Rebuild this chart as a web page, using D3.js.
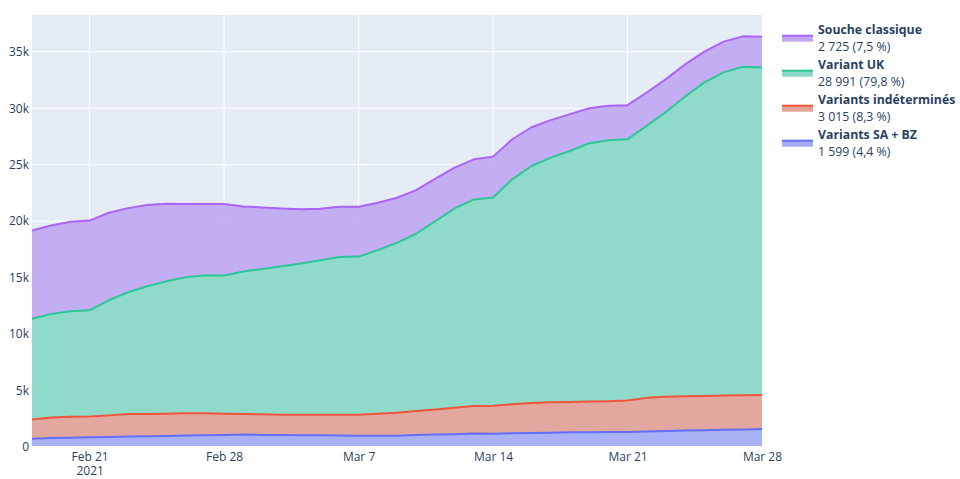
<!DOCTYPE html>
<html>
<head>
<meta charset="utf-8">
<script src="https://cdn.jsdelivr.net/npm/d3@7"></script>
<style>
  html, body { margin: 0; padding: 0; background: #fff; }
  svg { display: block; font-family: "Open Sans", "Noto Sans", sans-serif; }
</style>
</head>
<body>
<svg id="chart" width="960" height="479"></svg>
<script>
// ---- Data (daily, Feb 18 – Mar 28, 2021) ----
const startDate = "2021-02-18";
const endDate = "2021-03-28";
const seriesNames = ["Variants SA + BZ", "Variants indéterminés", "Variant UK", "Souche classique"];
const seriesColors = ["#636efa", "#EF553B", "#2cc796", "#ab63fa"];
const fillColors = ["#a4acf4", "#e2a399", "#8ad8c5", "#c1a9f2"];
const legendSubtitles = ["1 599 (4,4 %)", "3 015 (8,3 %)", "28 991 (79,8 %)", "2 725 (7,5 %)"];

const variantsSABZ = [740,800,830,860,890,920,950,980,1010,1040,1070,1100,1070,1070,1040,1040,1010,1000,990,1000,1060,1100,1130,1190,1180,1220,1250,1270,1300,1310,1320,1330,1380,1420,1450,1490,1520,1560,1599];
const variantsIndetermines = [1700,1820,1850,1850,1910,2000,1970,1970,1970,1940,1880,1820,1820,1790,1820,1820,1850,1860,1960,2040,2120,2230,2350,2440,2480,2560,2650,2690,2690,2710,2730,2780,2970,3040,3040,3030,3030,3020,3015];
const variantUK = [8920,9155,9330,9390,10190,10780,11310,11725,12050,12230,12230,12610,12880,13140,13380,13680,13970,14000,14480,15040,15700,16670,17640,18290,18440,19920,20980,21660,22220,22870,23110,23140,24080,25210,26550,27760,28620,29090,28991];
const soucheClassique = [7810,7840,7930,7950,7750,7450,7190,6865,6480,6300,6330,5770,5440,5120,4800,4550,4440,4410,4200,3990,3870,3760,3610,3550,3610,3550,3430,3320,3260,3110,3050,3020,2960,2900,2840,2720,2720,2690,2725];

const yTickValues = [0, 5000, 10000, 15000, 20000, 25000, 30000, 35000];
const xTickDates = ["2021-02-21", "2021-02-28", "2021-03-07", "2021-03-14", "2021-03-21", "2021-03-28"];
const yMax = 38250;

// ---- Build table ----
const parse = d3.timeParse("%Y-%m-%d");
const d0 = parse(startDate);
const dates = variantsSABZ.map((_, i) => d3.timeDay.offset(d0, i));
const table = dates.map((d, i) => ({
  date: d,
  s0: variantsSABZ[i],
  s1: variantsIndetermines[i],
  s2: variantUK[i],
  s3: soucheClassique[i]
}));
const stack = d3.stack().keys(["s0", "s1", "s2", "s3"]);
const layers = stack(table);

// ---- Layout ----
const svg = d3.select("#chart");
const m = { left: 32, right: 762, top: 15, bottom: 447 };
const x = d3.scaleTime().domain([d0, parse(endDate)]).range([m.left, m.right]);
const y = d3.scaleLinear().domain([0, yMax]).range([m.bottom, m.top]);
const textColor = "#2a3f5f";

// background
svg.append("rect").attr("x", m.left).attr("y", m.top)
  .attr("width", m.right - m.left).attr("height", m.bottom - m.top)
  .attr("fill", "#E5ECF6");

// grid
const grid = svg.append("g");
grid.selectAll("line.h").data(yTickValues.filter(v => v > 0)).join("line")
  .attr("x1", m.left).attr("x2", m.right)
  .attr("y1", d => y(d)).attr("y2", d => y(d))
  .attr("stroke", "#fff").attr("stroke-width", 1);
grid.selectAll("line.v").data(xTickDates.map(parse).filter(d => x(d) < m.right - 1)).join("line")
  .attr("x1", d => x(d)).attr("x2", d => x(d))
  .attr("y1", m.top).attr("y2", m.bottom)
  .attr("stroke", "#fff").attr("stroke-width", 1);

// areas (semi-transparent so the grid shows faintly through)
const area = d3.area().x(d => x(d.data.date)).y0(d => y(d[0])).y1(d => y(d[1]));
const line = d3.line().x(d => x(d.data.date)).y(d => y(d[1]));
svg.append("g").selectAll("path").data(layers).join("path")
  .attr("d", area)
  .attr("fill", (d, i) => fillColors[i])
  .attr("fill-opacity", 0.93);

// zero line
svg.append("line").attr("x1", m.left).attr("x2", m.right)
  .attr("y1", y(0)).attr("y2", y(0)).attr("stroke", "#fff").attr("stroke-width", 2);

svg.append("g").selectAll("path").data(layers).join("path")
  .attr("d", line)
  .attr("fill", "none")
  .attr("stroke", (d, i) => seriesColors[i])
  .attr("stroke-width", 2)
  .attr("stroke-linejoin", "round");

// y axis
const yAxis = d3.axisLeft(y).tickValues(yTickValues)
  .tickFormat(d => d === 0 ? "0" : d3.format("~s")(d)).tickSize(0).tickPadding(2);
const gy = svg.append("g").attr("transform", `translate(${m.left - 1},0)`).call(yAxis);
gy.select(".domain").remove();
gy.selectAll("text").attr("fill", textColor).style("font-size", "12px")
  .style("font-family", '"Open Sans", sans-serif');

// x axis
const fmt = d3.timeFormat("%b %-d");
const xAxis = d3.axisBottom(x).tickValues(xTickDates.map(parse))
  .tickFormat(fmt).tickSize(0).tickPadding(5);
const gx = svg.append("g").attr("transform", `translate(0,${m.bottom})`).call(xAxis);
gx.select(".domain").remove();
gx.selectAll("text").attr("fill", textColor).style("font-size", "12px")
  .style("font-family", '"Open Sans", sans-serif');
// year label as its own text under the first tick
gx.selectAll(".tick").filter((d, i) => i === 0)
  .append("text")
  .attr("y", 27.5)
  .attr("fill", textColor)
  .style("font-size", "12px")
  .style("font-family", '"Open Sans", sans-serif')
  .attr("text-anchor", "middle")
  .text(d => d3.timeFormat("%Y")(d));

// legend
const legend = svg.append("g");
const order = [3, 2, 1, 0];
order.forEach((si, k) => {
  const yb = 34.3 + k * 35;
  const g = legend.append("g");
  g.append("rect").attr("x", 782).attr("y", yb + 1.4).attr("width", 31).attr("height", 6)
    .attr("fill", fillColors[si]);
  g.append("line").attr("x1", 782).attr("x2", 813).attr("y1", yb + 1.4).attr("y2", yb + 1.4)
    .attr("stroke", seriesColors[si]).attr("stroke-width", 2);
  g.append("text").attr("x", 818).attr("y", yb)
    .attr("fill", textColor).style("font-size", "12.3px").style("font-weight", "bold")
    .text(seriesNames[si]);
  g.append("text").attr("x", 818).attr("y", yb + 16.4)
    .attr("fill", textColor).style("font-size", "12.3px")
    .text(legendSubtitles[si]);
});
</script>
</body>
</html>
